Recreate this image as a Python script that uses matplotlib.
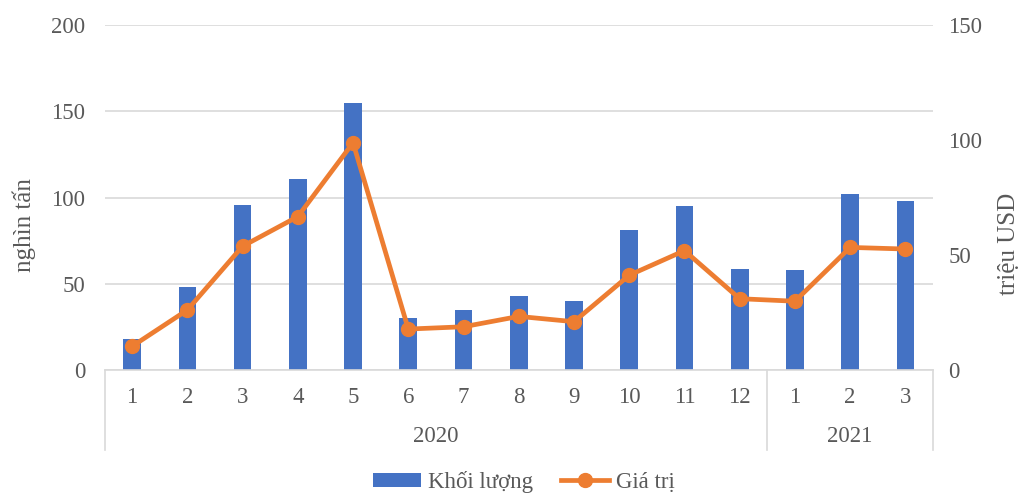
import matplotlib
matplotlib.use("Agg")
import matplotlib.pyplot as plt
from matplotlib.lines import Line2D
from matplotlib.patches import Patch
import matplotlib.transforms as mtransforms

plt.rcParams['font.family'] = ['Liberation Serif', 'DejaVu Serif']

months = ['1', '2', '3', '4', '5', '6', '7', '8', '9', '10', '11', '12', '1', '2', '3']
years = ['2020', '2021']
year_counts = [12, 3]
khoi_luong = [18, 48, 95.5, 111, 155, 30, 35, 43, 40, 81, 95, 58.5, 58, 102, 98]
gia_tri = [10.3, 26.1, 53.8, 66.7, 98.8, 17.8, 18.8, 23.3, 21.0, 41.2, 51.9, 31.0, 29.9, 53.3, 52.6]

BLUE = '#4472C4'
ORANGE = '#ED7D31'
TXT = '#595959'
GRID = '#D9D9D9'
FS = 16.5
LW = 3.4
MS = 10

fig = plt.figure(figsize=(10.19, 4.94), dpi=100)
ax = fig.add_axes([104.5/1019, 1-370/494, (933-104.5)/1019, 345/494])
x = list(range(len(months)))
ax.bar(x, khoi_luong, width=0.32, color=BLUE, zorder=2)
ax.set_xlim(-0.5, len(months)-0.5)
ax.set_ylim(0, 200)
ax.set_yticks([0, 50, 100, 150, 200])
ax.yaxis.grid(True, color=GRID, lw=1.2, zorder=0)
ax.set_axisbelow(True)
for s in ['top', 'right', 'left']:
    ax.spines[s].set_visible(False)
ax.spines['bottom'].set_color(GRID)
ax.spines['bottom'].set_linewidth(1.2)
ax.tick_params(axis='y', length=0, pad=14, labelsize=FS, labelcolor=TXT)
ax.set_xticks(x)
ax.set_xticklabels(months)
ax.tick_params(axis='x', length=0, pad=12, labelsize=FS, labelcolor=TXT)

ax2 = ax.twinx()
ax2.plot(x, gia_tri, color=ORANGE, lw=LW, marker='o', markersize=MS, zorder=3)
ax2.set_ylim(0, 150)
ax2.set_yticks([0, 50, 100, 150])
for s in ['top', 'right', 'left', 'bottom']:
    ax2.spines[s].set_visible(False)
ax2.tick_params(axis='y', length=0, pad=11, labelsize=FS, labelcolor=TXT)

# multi-level category axis
trans = mtransforms.blended_transform_factory(ax.transData, ax.transAxes)
depth = -80/345
bounds = [-0.5]
pos = -0.5
for c in year_counts:
    pos += c
    bounds.append(pos)
for b in bounds:
    ax.plot([b, b], [0, depth], color=GRID, lw=1.2, transform=trans, clip_on=False)
start = -0.5
for yname, c in zip(years, year_counts):
    ax.text(start + c/2, -67/345, yname, transform=trans, ha='center', va='center',
            fontsize=FS, color=TXT)
    start += c

fig.text(24/1019, 1-225/494, 'nghìn tấn', rotation=90, ha='center', va='center',
         fontsize=18, color=TXT)
fig.text(1009/1019, 1-244/494, 'triệu USD', rotation=90, ha='center', va='center',
         fontsize=18, color=TXT)

handles = [Patch(facecolor=BLUE, edgecolor='none'),
           Line2D([0], [0], color=ORANGE, lw=LW, marker='o', markersize=MS)]
fig.legend(handles, ['Khối lượng', 'Giá trị'], loc='center',
           bbox_to_anchor=(524/1019, 1-482/494), ncol=2, frameon=False,
           fontsize=FS, handlelength=2.1, handleheight=0.55, handletextpad=0.3,
           columnspacing=1.2, labelcolor=TXT)

fig.savefig('out.png', dpi=100)
